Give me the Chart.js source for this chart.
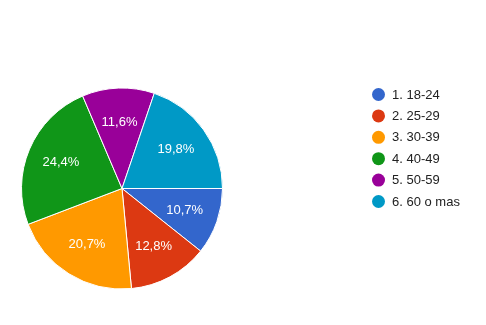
<!DOCTYPE html>
<html>
<head>
<meta charset="utf-8">
<script src="https://cdn.jsdelivr.net/npm/chart.js@4"></script>
<style>
  html, body { margin: 0; padding: 0; background: #fff; }
  #wrap { width: 486px; height: 325px; position: relative; }
</style>
</head>
<body>
<div id="wrap"><canvas id="chart-pie" width="486" height="325"></canvas></div>
<script>
(function () {
  "use strict";

  // Datos
  const CATEGORIAS = ["1. 18-24", "2. 25-29", "3. 30-39", "4. 40-49", "5. 50-59", "6. 60 o mas"];
  const PORCENTAJES = [10.7, 12.8, 20.7, 24.4, 11.6, 19.8];
  const COLORES = ["#3366cc", "#dc3912", "#ff9900", "#109618", "#990099", "#0099c6"];

  const FUENTE = "Arial, 'Liberation Sans', sans-serif";

  function fmtPct(v) {
    return v.toFixed(1).replace(".", ",") + "%";
  }

  // Etiquetas dentro de cada porción
  const etiquetas = {
    id: "etiquetas",
    afterDatasetsDraw(chart) {
      const ctx = chart.ctx;
      const meta = chart.getDatasetMeta(0);
      ctx.save();
      ctx.font = "13px " + FUENTE;
      ctx.fillStyle = "#ffffff";
      ctx.textAlign = "center";
      ctx.textBaseline = "middle";
      meta.data.forEach((arc, i) => {
        const a = (arc.startAngle + arc.endAngle) / 2;
        const r = arc.outerRadius * 0.66;
        ctx.fillText(fmtPct(PORCENTAJES[i]), arc.x + Math.cos(a) * r, arc.y + Math.sin(a) * r);
      });
      ctx.restore();
    },
  };

  // Leyenda a la derecha
  const leyenda = {
    id: "leyenda",
    afterDraw(chart) {
      const ctx = chart.ctx;
      ctx.save();
      ctx.font = "13px " + FUENTE;
      ctx.textBaseline = "middle";
      ctx.textAlign = "left";
      CATEGORIAS.forEach((c, i) => {
        const y = 94.5 + i * 21.4;
        ctx.beginPath();
        ctx.arc(378.5, y, 6.5, 0, Math.PI * 2);
        ctx.fillStyle = COLORES[i];
        ctx.fill();
        ctx.fillStyle = "#222222";
        ctx.fillText(c, 392, y + 0.5);
      });
      ctx.restore();
    },
  };

  new Chart(document.getElementById("chart-pie"), {
    type: "pie",
    data: {
      labels: CATEGORIAS,
      datasets: [
        {
          data: PORCENTAJES,
          backgroundColor: COLORES,
          borderColor: "#ffffff",
          borderWidth: 1,
        },
      ],
    },
    options: {
      responsive: false,
      animation: false,
      rotation: 90,
      layout: { padding: { left: 21, top: 87, right: 263, bottom: 35 } },
      plugins: {
        legend: { display: false },
        tooltip: { enabled: false },
      },
    },
    plugins: [etiquetas, leyenda],
  });
})();
</script>
</body>
</html>
